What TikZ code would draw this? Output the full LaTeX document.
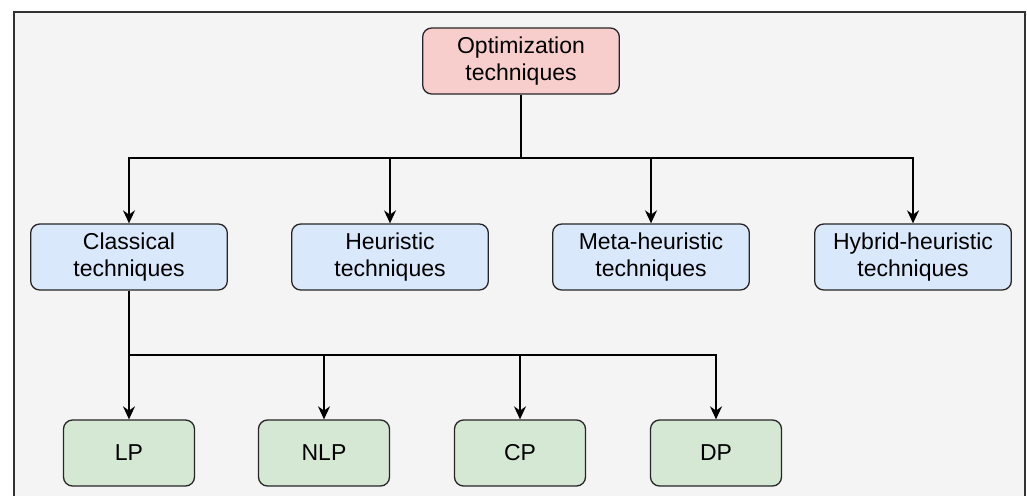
\documentclass[tikz,border=0pt]{standalone}
\usepackage{fontspec}
\setmainfont{Liberation Sans}
\usetikzlibrary{arrows.meta}

\definecolor{rootfill}{HTML}{F8CECC}
\definecolor{classfill}{HTML}{DAE8FC}
\definecolor{leaffill}{HTML}{D5E8D4}
\definecolor{canvas}{HTML}{F4F4F4}

\tikzset{
	box/.style={draw=black!85, line width=1.3pt, rounded corners=9pt,
		text centered, minimum height=66pt, font=\fontsize{23}{27}\selectfont},
	rootbox/.style={box, fill=rootfill, minimum width=196pt, text width=190pt},
	classbox/.style={box, fill=classfill, minimum width=196pt, text width=190pt},
	leafbox/.style={box, fill=leaffill, minimum width=131pt},
	link/.style={line width=1.6pt, -{Stealth[length=13pt, width=12pt]}},
	wire/.style={line width=1.6pt}
}

\begin{document}
\begin{tikzpicture}[x=1pt, y=1pt]
	\useasboundingbox (0,0) rectangle (1027,-495);
	\draw[fill=canvas, draw=black!80, line width=1.6pt] (14,-12) rectangle (1025,-510);

	\node[rootbox] (optim) at (521,-61) {Optimization\\techniques};

	\node[classbox] (classical) at (129,-257) {Classical\\techniques};
	\node[classbox] (heuristic) at (390,-257) {Heuristic\\techniques};
	\node[classbox] (metaheur) at (651,-257) {Meta-heuristic\\techniques};
	\node[classbox] (hybrid) at (913,-257) {Hybrid-heuristic\\techniques};

	\node[leafbox] (lp) at (129,-453) {LP};
	\node[leafbox] (nlp) at (324,-453) {NLP};
	\node[leafbox] (cp) at (520,-453) {CP};
	\node[leafbox] (dp) at (716,-453) {DP};

	% first level
	\coordinate (split1) at (521,-158);
	\draw[wire] (optim) -- (split1);
	\draw[link] (split1) -| (classical);
	\draw[link] (split1) -| (heuristic);
	\draw[link] (split1) -| (metaheur);
	\draw[link] (split1) -| (hybrid);

	% classical techniques
	\coordinate (split2) at (129,-355);
	\draw[wire] (classical) -- (split2);
	\draw[link] (split2) -- (lp);
	\draw[link] (split2) -| (nlp);
	\draw[link] (split2) -| (cp);
	\draw[link] (split2) -| (dp);
\end{tikzpicture}
\end{document}
